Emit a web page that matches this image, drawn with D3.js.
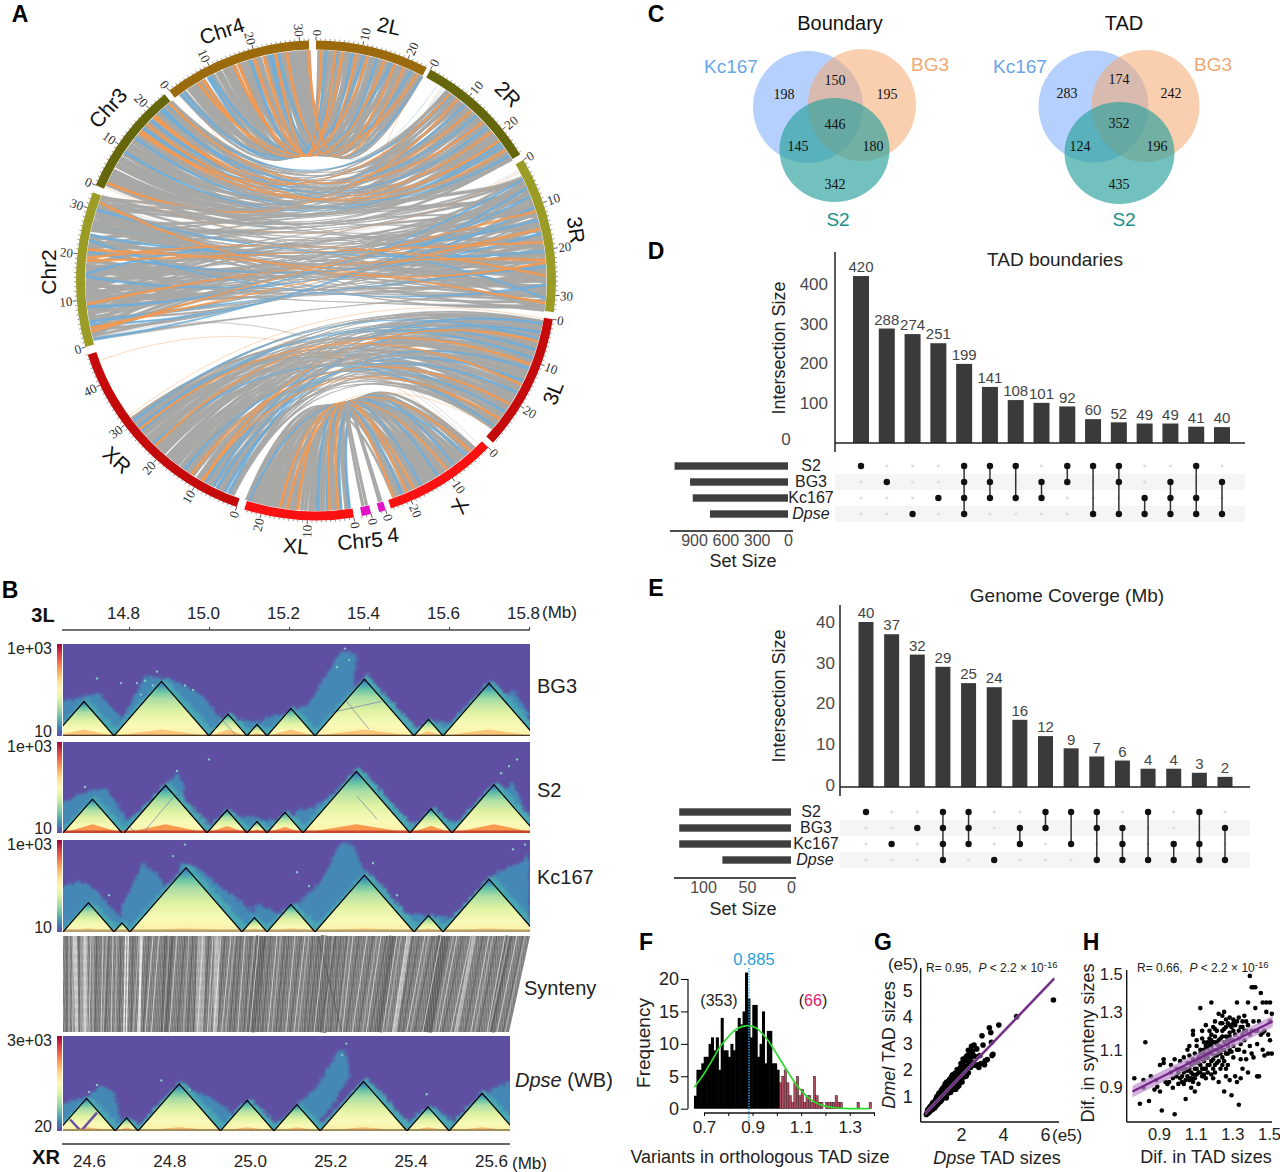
<!DOCTYPE html>
<html><head><meta charset="utf-8">
<script src="https://cdn.jsdelivr.net/npm/d3@7/dist/d3.min.js"></script>
<style>html,body{margin:0;padding:0;background:#fff}svg{display:block}text{font-family:"Liberation Sans",Arial,sans-serif}</style>
</head><body><svg id="c" width="1280" height="1172" viewBox="0 0 1280 1172"></svg>
<script>
/* ---------- A: synteny circle ---------- */
const sectorNames=["2L","2R","3R","3L","X","4","Chr5","XL","XR","Chr2","Chr3","Chr4"];
const sectorLengths=[24.4,26.5,33.6,29.8,24.6,1.5,2,23.7,47,33.5,24.5,32];
const sectorSpans=[[0,27.5],[28.5,58.3],[59.8,97.6],[99.3,132.5],[134.1,161.8],[163.1,164.75],[166.7,169],[170.9,197.4],[199.3,252],[253.9,291.6],[293.4,320.9],[322.3,358.3]];
const sectorColors=["#9a6a0c","#66660c","#9a9c26","#c40a0a","#fa1212","#e312c6","#e312c6","#fa1212","#c40a0a","#9a9c26","#66660c","#9a6a0c"];
const sectorTexts=[["2L",389,26,12],["Chr4",222,31,-18],["2R",508,94,45],["Chr3",108,108,-48],["3R",576,230,82],["Chr2",49,272,-90],["3L",553,393,-68],["XR",117,460,42],["X",460,506,-60],["XL",296,546,5],["Chr5",360,541,-5],["4",393,535,-5]];

const a2L=[.4,.9,1.5,2,2.4,3,3.6,4.1,4.5,5,5.7,6.2,6.7,7.1,7.8,8.3,8.8,9.2,9.9,10.4,10.9,11.3,12,12.5,13,13.4,14.1,14.6,15.1,15.5,16.2,16.7,17.2,17.6,18.3,18.8,19.3,19.7,20.4,20.9,21.4,21.8,22.5,23,23.6,24];
const bChr4=[29.5,24.2,30.6,18.5,27.1,12.3,31.2,21.6,8.4,26,15.7,3.3,28.4,10.6,22.9,5.2,19.4,30,13.8,2.1,25.3,7.1,16.9,27.8,11.2,23.6,4.4,20.5,14.6,29,9.5,1.2,17.8,26.7,6.3,22.1,12.9,31.5,3.9,19.9,9,16,28.9,5.8,14,24.8];
const t2L="gogbgggobgogggbgoggbgogggbggoggbgogggoggbggogb";
const a2R=[5.2,5.7,6.2,6.6,7.2,7.8,8.2,8.7,9.3,9.8,10.2,10.7,11.3,11.8,12.2,12.7,13.3,13.8,14.2,14.7,15.3,15.8,16.2,16.7,17.3,17.8,18.2,18.7,19.3,19.8,20.2,20.7,21.3,21.8,22.2,22.7,23.3,23.8,24.2,24.7,25.3,25.8,26.1];
const bChr3=[20.2,3.1,14.4,23.3,8.5,17.6,1.2,11.9,22.1,5.4,15.8,9.6,24,2.3,19.1,12.7,6.8,21.3,16.5,4.2,10.4,23.7,13.6,1.8,18.3,7.5,22.7,15,3.7,20.8,11,5.9,17,9.1,24.2,13,2.8,19.6,7,14.9,21.9,.8,16.1];
const t2R="ggobggogggbgggoggbgggoggbggoggggobgbgoggbgggog";
const a3R=[3,3.5,4,4.5,5.1,5.6,6.1,6.6,7.1,7.6,8.1,8.6,9.1,9.6,10.1,10.6,11.1,11.6,12.1,12.6,13.1,13.6,14.1,14.6,15.1,15.6,16.1,16.6,17.1,17.6,18.1,18.6,19.1,19.6,20.1,20.6,21.1,21.6,22.1,22.6,23.1,23.6,24.1,24.6,25.1,25.6,26.1,26.6,27.1,27.6,28.1,28.6,29.1,29.6,30.1,30.6,31.1,31.6,32.1,32.6,33.1];
const bChr2=[27.3,8.2,31.1,16.4,22.6,4.3,12.8,29.4,19.7,.9,25.2,10.1,32.6,6.6,14.9,21.3,2.7,28.2,17.5,11.4,24.1,7.4,30.3,15.2,3.5,26.5,20.5,9.2,32,13.6,18.4,1.6,23.4,5.5,29.9,12,27,16.9,8.8,31.7,21.9,4.9,14.2,25.8,10.7,19,2.2,28.8,6,23,17.2,11,30.7,3,26,15.6,9.7,20.9,13.1,32.9,7.9];
const t3R="gbgggbgggbggggbgogggbgggogbgggogggbgggoogbgggogggbgggggbgogg";
const waistShift=[-18,6,-34,12,-8,16,-26,2,-14,10,-38,8,-4,-22,14,-30,-10,4,-42,18,-6,-16,12,-28,0,-36,6,-12,16,-20];
const a3L=[.6,1.1,1.6,2.1,2.6,3.1,3.6,4.1,4.6,5.1,5.6,6.1,6.6,7.1,7.6,8.1,8.6,9.1,9.6,10.1,10.6,11.1,11.6,12.1,12.6,13.1,13.6,14.1,14.6,15.1,15.6,16.1,16.6,17.1,17.6,18.1,18.6,19.1,19.6,20.1,20.6,21.1,21.6,22.1,22.6,23.1,23.6,24.1,24.6,25.1,25.6,26.1,26.6,27.1];
const bXR=[24.4,6.1,17.3,28.6,11.2,2.4,20.9,14.5,29.3,8.7,23.1,4.2,16.2,26.5,10,19.4,1.4,27.6,13.1,7.3,22,15.4,3.3,25.3,18.3,9.4,29.8,12.2,5.2,21.4,27,16.8,1.9,24,8.1,19.9,14,28.2,6.7,23.6,11.7,3.8,17.8,26,13.6,20.4,4.7,28.9,9,15.9,25.7,7.8,22.6,12.7];
const t3L="gbgggbggbogggbgggbggogbgggggbgogggbgggggogggbgggogggb";
const aX=[2,2.6,3.1,3.7,4.4,5,5.5,6.2,6.8,7.3,7.9,8.6,9.1,9.7,10.4,11,11.5,12.2,12.8,13.3,13.9,14.6,15.1,15.7,16.4,17,17.5,18.2,18.8,19.3,19.9,20.6,21.1,21.7,22.4,23];
const bXL=[21.6,3.6,14.3,9.1,22.9,1,17.2,6.2,19.8,12.5,.4,23.4,8,15.9,4.4,20.6,11,2.3,18.5,13.6,6.9,22.2,10.1,16.7,5.3,19.2,.7,12,8.8,21.1,2.9,15.2,7.5,18,13,4.9];
const tX="ggogbgggggbggogggbggggggbggoggogbggog";
const a4=[.2,.7];
const bChr5=[.3,1.1];
const t4="gg";
const faintLinks=[["Chr4",1,"2L",24.2,"o"],["Chr3",1,"2R",5,"g"],["Chr2",26.5,"2R",4.5,"b"],["Chr3",.4,"3R",2,"o"],["Chr2",32,"3R",1.5,"g"],["XR",45,"X",3,"o"],["XR",31,"3L",.2,"o"],["3L",27,"XR",30,"b"],["3L",27.4,"XL",23,"o"],["XR",30.5,"3L",26.5,"o"],["Chr2",2,"X",2,"g"],["Chr2",1.4,"X",1,"g"],["Chr4",3,"Chr3",24,"o"],["2R",4,"2L",23.6,"o"],["2R",3,"Chr4",28,"b"]];
const toneColors={g:"#a8a8a6",o:"#f4994f",b:"#6eaedb"};

/* ---------- B: contact maps ---------- */
const xTopTicks=[14.8,15.0,15.2,15.4,15.6,15.8];
const xBottomTicks=[24.6,24.8,25.0,25.2,25.4,25.6];
const bg3Tads=[[14.6125,14.7625],[14.7625,15.0],[15.0,15.095],[15.095,15.145],[15.145,15.265],[15.265,15.5125],[15.5125,15.585],[15.585,15.815]];
const s2Tads=[[14.635,14.7825],[14.7875,14.995],[14.995,15.095],[15.095,15.145],[15.145,15.235],[15.235,15.5025],[15.5025,15.6075],[15.6075,15.8175]];
const kcTads=[[14.635,14.7625],[14.7625,14.8025],[14.8025,15.0825],[15.0825,15.145],[15.145,15.265],[15.265,15.5125],[15.5125,15.585],[15.585,15.815]];
const dpseTads=[[24.523,24.665],[24.665,24.722],[24.722,24.927],[24.927,25.06],[25.06,25.175],[25.175,25.391],[25.391,25.496],[25.496,25.66]];
const bg3Haze=[[[14.63,0],[14.63,.15],[14.68,.17],[14.72,.19],[14.78,.08],[14.8,0]],[[14.76,0],[14.8,.13],[14.84,.26],[14.9,.25],[14.98,.18],[15.04,.05],[15.05,0]],[[15.1,0],[15.14,.08],[15.2,.1],[15.25,.14],[15.33,.37],[15.37,.36],[15.36,.2],[15.26,0]],[[15.03,0],[15.05,.08],[15.12,.06],[15.2,0]],[[15.5,0],[15.55,.07],[15.62,.05],[15.66,0]],[[15.68,0],[15.76,.2],[15.8,.1],[15.8,0]]];
const s2Haze=[[[14.63,0],[14.63,.13],[14.7,.18],[14.74,.2],[14.8,.05],[14.81,0]],[[14.76,0],[14.8,.06],[14.86,.15],[14.92,.26],[14.94,.2],[14.9,0]],[[14.98,0],[15.02,.05],[15.08,.07],[15.15,.06],[15.2,.04],[15.25,0]],[[15.19,0],[15.22,.1],[15.26,.11],[15.31,.17],[15.37,.27],[15.42,.2],[15.3,0]],[[15.48,0],[15.54,.06],[15.62,.05],[15.66,.03],[15.68,0]],[[15.66,0],[15.72,.16],[15.76,.22],[15.8,.05],[15.8,0]]];
const kcHaze=[[[14.63,0],[14.63,.2],[14.68,.22],[14.72,.18],[14.78,.06],[14.82,0]],[[14.78,0],[14.78,.1],[14.835,.3],[14.87,.25],[14.92,.12],[14.86,0]],[[14.9,.1],[14.93,.3],[14.97,.28],[15.1,.1],[15.14,.03],[15.05,.02]],[[15.08,0],[15.12,.12],[15.15,.1],[15.2,.06],[15.26,0]],[[15.2,0],[15.22,.12],[15.28,.22],[15.33,.39],[15.36,.38],[15.39,.25],[15.35,.18],[15.27,0]],[[15.47,0],[15.5,.08],[15.56,.07],[15.66,.05],[15.7,0]],[[15.68,.1],[15.7,.2],[15.72,.26],[15.78,.3],[15.8,.34],[15.8,.05],[15.78,.05]]];
const dpseHaze=[[[24.535,0],[24.535,.12],[24.6,.15],[24.63,.2],[24.66,.17],[24.68,.05],[24.7,0]],[[24.76,0],[24.82,.2],[24.9,.15],[24.98,.05],[25.0,0]],[[24.92,0],[24.98,.12],[25.03,.08],[25.08,0]],[[25.05,0],[25.1,.08],[25.17,.2],[25.22,.35],[25.24,.35],[25.25,.24],[25.2,.1],[25.15,0]],[[25.37,0],[25.42,.08],[25.46,.1],[25.52,.03],[25.54,0]],[[25.55,0],[25.6,.18],[25.65,.22],[25.65,0]]];
const bg3Specks=[[14.82,.23],[14.84,.24],[14.86,.22],[14.87,.28],[14.83,.18],[14.94,.22],[14.96,.2],[14.72,.25],[14.78,.23],[15.34,.38],[15.35,.33],[15.32,.3]];
const s2Specks=[[15.0,.32],[14.92,.27],[15.73,.26],[15.77,.32],[15.75,.29],[14.69,.2]];
const kcSpecks=[[14.94,.38],[14.91,.33],[14.75,.16],[15.25,.2],[15.47,.16],[15.41,.3],[15.79,.38],[15.76,.36],[15.22,.26]];
const dpseSpecks=[[25.24,.38],[25.23,.33],[24.85,.18],[24.78,.22],[25.44,.16],[24.62,.2],[24.6,.17]];
const bg3Stripes=[[15.035,.065,15.07,0],[15.33,.18,15.4,.03],[15.3,.1,15.43,.15]];
const s2Stripes=[[14.835,0,14.91,.155],[14.79,.04,14.82,0],[15.37,.16,15.42,.06]];
const kcStripes=[[15.25,.12,15.33,.24]];
const dpseStripes=[[24.553,.05,24.58,0],[24.58,0,24.62,.08]];
const synWhite=[[14.66,24.56],[14.69,24.59],[14.705,24.6],[14.735,24.63],[14.76,24.655],[14.835,24.72],[14.86,24.74],[14.875,24.755],[14.92,24.8],[14.985,24.87],[15.01,24.895],[15.03,24.91],[15.055,24.93],[15.09,24.97],[15.125,25.0],[15.17,25.045],[15.215,25.09],[15.24,25.11],[15.29,25.16],[15.36,25.23],[15.395,25.255],[15.43,25.29],[15.47,25.33],[15.495,25.355],[15.54,25.39],[15.58,25.43],[15.62,25.47],[15.655,25.5],[15.7,25.55],[15.74,25.59],[15.77,25.615]];
const synDark=[[14.645,24.545],[14.675,24.575],[14.72,24.615],[14.75,24.64],[14.78,24.675],[14.795,24.69],[14.81,24.705],[14.85,24.735],[14.89,24.78],[14.91,24.79],[14.94,24.82],[14.96,24.845],[14.97,24.86],[15.0,24.885],[15.04,24.92],[15.07,24.95],[15.08,24.96],[15.105,24.985],[15.14,25.02],[15.155,25.03],[15.19,25.065],[15.2,25.075],[15.23,25.1],[15.26,25.135],[15.275,25.145],[15.2725,25.229],[15.33,25.2],[15.345,25.215],[15.375,25.24],[15.41,25.27],[15.445,25.3],[15.46,25.32],[15.51,25.37],[15.525,25.38],[15.56,25.41],[15.6,25.45],[15.635,25.48],[15.67,25.52],[15.685,25.535],[15.72,25.57],[15.755,25.6],[15.785,25.63],[15.3175,25.175]];
const synMid=[[14.65,24.55],[14.68,24.58],[14.71,24.61],[14.745,24.635],[14.77,24.665],[14.825,24.71],[14.9,24.785],[14.95,24.835],[15.02,24.9],[15.065,24.94],[15.115,24.99],[15.18,25.055],[15.25,25.12],[15.31,25.185],[15.35,25.22],[15.42,25.28],[15.48,25.34],[15.55,25.4],[15.61,25.46],[15.66,25.51],[15.71,25.56],[15.75,25.595],[15.79,25.635]];
const synBandsLight=[[14.795,24.69,4,"#fff"],[14.83,24.725,2.5,"#f4f4f4"],[14.665,24.57,4,"#d8d8d8"],[14.69,24.59,5,"#c4c4c4"],[14.98,24.875,9,"#b2b2b2"],[15.02,24.915,5,"#c2c2c2"],[15.5,25.36,4,"#c8c8c8"],[15.665,25.515,5,"#bdbdbd"]];
const synBandsDark=[[15.585,25.44,10,"#5c5c5c"],[14.9,24.79,8,"#666"],[15.13,25.0,10,"#5f5f5f"],[15.3,25.17,16,"#6a6a6a"],[15.46,25.32,8,"#666"],[15.75,25.6,7,"#666"]];

/* ---------- C: Venn ---------- */
const setNames=["Kc167","BG3","S2"];
const boundaryCounts=[198,150,195,446,145,180,342];
const tadCounts=[283,174,242,352,124,196,435];

/* ---------- D, E: UpSet ---------- */
const dBars=[420,288,274,251,199,141,108,101,92,60,52,49,49,41,40];
const eBars=[40,37,32,29,25,24,16,12,9,7,6,4,4,3,2];
const upRows=["S2","BG3","Kc167","Dpse"];
const dMembers=[[0],[1],[3],[2],[0,1,2,3],[0,1,2],[0,2],[1,2],[0,1],[0,3],[0,1,3],[2,3],[1,2,3],[0,2,3],[1,3]];
const eMembers=[[0],[2],[1],[0,1,2,3],[0,1,2],[3],[1,2],[0,1],[0,2],[0,1,3],[1,2,3],[0,3],[2,3],[0,2,3],[1,3]];
const dSetSizes=[1086,938,912,747];
const eSetSizes=[127,127,127,78];

/* ---------- F ---------- */
const histStart=.66;
const histBlack=[2,6,6,7,8,8,10,11,9,11,6,14,9,9,8,10,9,12,14,13,15,21,17,11,16,16,8,10,15,7,12,12,7,7,6];
const histRedStart=1.01;
const histRed=[4,5,6,4,2,1,4,5,2,3,1,2,2,1,5,2,1,1,0,1,1,1,1,2,1,1,0,0,0,0,0,0,1,0,0,0,0,1];
const fitX=[.66,.68,.7,.72,.74,.76,.78,.8,.82,.84,.86,.88,.9,.92,.94,.96,.98,1,1.02,1.04,1.06,1.08,1.1,1.12,1.14,1.16,1.18,1.2,1.24,1.28,1.32,1.38];
const fitY=[3.3,4.3,5.4,6.6,7.9,9.2,10.2,11.1,11.9,12.4,12.7,12.8,12.7,12.3,11.6,10.7,9.6,8.4,7.2,6,4.8,3.7,2.8,2,1.4,.95,.6,.4,.15,.05,.01,0];

/* ---------- G ---------- */
const gLine=[[.3,.36],[6.44,5.46]];
const gPoints=[[.38,.36],[.4,.45],[.42,.5],[.44,.38],[.45,.42],[.47,.52],[.48,.55],[.5,.46],[.5,.42],[.52,.6],[.54,.47],[.55,.5],[.57,.57],[.58,.62],[.6,.52],[.6,.6],[.62,.7],[.63,.5],[.65,.58],[.66,.65],[.68,.66],[.69,.56],[.7,.78],[.72,.62],[.73,.7],[.75,.72],[.76,.62],[.78,.85],[.8,.7],[.8,.78],[.82,.92],[.83,.66],[.85,.78],[.87,.86],[.88,.82],[.9,1.02],[.9,.72],[.92,.8],[.94,.88],[.95,.92],[.96,.78],[.98,1.1],[1,.88],[1,.96],[1.02,1],[1.03,.82],[1.05,1.2],[1.06,.92],[1.08,.98],[1.1,1.08],[1.1,.9],[1.12,1.3],[1.14,.98],[1.15,1.02],[1.16,1.14],[1.18,1.2],[1.2,1.38],[1.2,1],[1.22,1.1],[1.24,1.05],[1.25,1.28],[1.28,1.42],[1.28,1.1],[1.3,1.16],[1.32,1.3],[1.33,1.08],[1.35,1.5],[1.36,1.2],[1.38,1.22],[1.4,1.36],[1.42,1.58],[1.43,1.15],[1.45,1.3],[1.47,1.25],[1.48,1.46],[1.5,1.62],[1.52,1.35],[1.53,1.22],[1.55,1.5],[1.58,1.68],[1.6,1.4],[1.61,1.3],[1.62,1.58],[1.65,1.75],[1.66,1.38],[1.68,1.48],[1.7,1.62],[1.72,1.4],[1.75,1.55],[1.77,1.82],[1.8,1.7],[1.82,1.5],[1.85,1.62],[1.88,1.95],[1.9,1.72],[1.92,1.55],[1.95,1.85],[1.98,2.1],[2,1.78],[2.02,1.65],[2.05,2],[2.08,2.2],[2.1,1.85],[2.12,2.32],[2.15,1.95],[2.18,2.1],[2.2,2.4],[2.22,1.88],[2.25,2.5],[2.28,2.15],[2.3,2.05],[2.32,2.35],[2.35,2.75],[2.38,2.45],[2.4,2.2],[2.42,2.62],[2.45,2.1],[2.48,2.5],[2.5,2.9],[2.52,2.3],[2.55,2.72],[2.58,2.28],[2.6,2.55],[2.62,2.95],[2.66,2.18],[2.7,2.5],[2.75,2.8],[2.8,2.2],[2.85,2.1],[2.9,2.55],[2.95,2.25],[3,3.3],[3.05,2.95],[3.12,2.2],[3.15,2.35],[3.25,2.4],[3.35,3.6],[3.42,3.42],[3.48,2.55],[3.52,2.6],[3.45,3.05],[3.8,3.7],[4.65,4.02],[6.4,4.65],[1.3,.95],[1.5,1.15],[1.7,1.28],[.75,.58],[1.05,.85],[1.25,1.48],[1.55,1.75],[1.85,1.38],[2.05,1.55],[2.15,1.75],[.95,1.12],[1.03,1.15],[1.08,1.25],[1.18,1.32],[1.32,1.55],[1.4,1.5],[1.46,1.65],[1.6,1.82],[1.72,1.88],[1.82,2.02],[1.92,2.02],[2.0,2.25],[2.1,2.42],[2.3,2.55],[1.75,1.28],[1.9,1.42],[2.25,1.78],[2.35,1.9],[.35,.32],[.55,.62],[.65,.75],[.85,1.0]];

/* ---------- H ---------- */
const hLine=[[.75,.88],[1.515,1.25]];
const hPoints=[[.76,.95],[.79,.815],[.81,.94],[.81,.9],[.82,1.14],[.84,.83],[.85,.96],[.87,.89],[.88,.94],[.885,.905],[.9,1.02],[.9,.88],[.91,.78],[.92,1.05],[.92,1.03],[.94,.92],[.95,.93],[.96,1.02],[.97,.9],[.98,.76],[.98,1.05],[.99,.96],[1,.98],[1,.92],[1.01,.95],[1.01,1.04],[1.02,1.0],[1.02,.96],[1.03,.92],[1.03,1.06],[1.04,1.0],[1.04,.84],[1.05,.96],[1.05,1.1],[1.06,1.03],[1.06,1.07],[1.07,.98],[1.07,.95],[1.08,1.2],[1.08,1.18],[1.09,1.0],[1.09,1.08],[1.09,.88],[1.1,1.04],[1.1,1.12],[1.11,.98],[1.11,1.06],[1.12,1.02],[1.12,1.1],[1.12,1.32],[1.13,1.16],[1.13,1.0],[1.13,.96],[1.14,1.04],[1.14,1.08],[1.15,1.12],[1.15,1.0],[1.15,1.23],[1.16,1.06],[1.16,.98],[1.16,1.14],[1.17,1.02],[1.17,1.09],[1.18,1.18],[1.18,1.35],[1.18,1.04],[1.19,1.0],[1.19,1.1],[1.19,1.22],[1.2,1.07],[1.2,.98],[1.2,1.14],[1.21,1.03],[1.21,1.2],[1.22,1.09],[1.22,1.12],[1.22,1.29],[1.23,1.0],[1.23,1.16],[1.23,1.24],[1.24,1.06],[1.24,1.1],[1.25,1.14],[1.25,1.04],[1.25,1.21],[1.25,1.3],[1.26,1.08],[1.26,1.17],[1.26,.96],[1.27,1.12],[1.27,1.02],[1.27,1.24],[1.28,1.1],[1.28,1.19],[1.28,.94],[1.29,1.15],[1.29,1.22],[1.29,.86],[1.3,1.06],[1.3,1.26],[1.3,1.12],[1.31,.96],[1.31,1.18],[1.31,1.23],[1.32,1.1],[1.32,.93],[1.32,1.35],[1.33,.81],[1.33,1.2],[1.33,1.27],[1.34,1.13],[1.34,1.05],[1.34,.95],[1.35,1.22],[1.35,1.25],[1.35,1.0],[1.36,1.15],[1.36,1.09],[1.36,1.28],[1.37,1.2],[1.37,1.05],[1.38,1.23],[1.38,.98],[1.38,1.35],[1.39,1.12],[1.39,1.18],[1.39,1.49],[1.4,1.43],[1.4,1.08],[1.41,1.43],[1.41,1.25],[1.41,1.06],[1.42,1.43],[1.42,1.2],[1.42,1.32],[1.43,.96],[1.43,1.13],[1.44,1.25],[1.44,.96],[1.45,1.18],[1.45,1.4],[1.46,1.35],[1.46,1.1],[1.47,1.2],[1.47,1.07],[1.48,1.3],[1.48,1.35],[1.49,1.18],[1.49,1.08],[1.5,1.35],[1.5,1.25],[1.5,1.15],[1.51,1.08],[1.51,1.29],[1.14,1.0],[1.11,.92],[1.07,.9],[1.04,.94],[1.02,.93],[.99,1.0],[.97,.95],[1.06,1.12],[1.08,1.05],[1.1,1.15],[1.13,1.2],[1.17,1.2],[1.2,1.25],[1.24,1.24],[1.28,1.27],[1.3,1.2],[1.24,1.17],[1.21,1.1],[1.18,1.12],[1.16,1.08],[1.14,1.14],[1.12,1.05],[1.1,1.0],[1.08,.97],[1.06,1.0],[1.26,1.0],[1.22,.93],[1.18,.97],[1.15,.95],[1.35,1.18],[1.33,1.1],[1.37,1.25],[1.4,1.2],[1.43,1.2],[1.46,1.19],[1.29,1.09],[1.27,1.15],[1.23,1.08],[1.19,1.05],[1.05,1.03],[1.01,1.0],[.96,.98],[.93,.93],[1.25,.88],[1.19,.95],[1.09,.95],[1.12,1.08],[1.14,1.1],[1.16,1.11],[1.18,1.15],[1.2,1.17],[1.22,1.15],[1.24,1.2],[1.26,1.22],[1.28,1.23],[1.3,1.24],[1.32,1.25],[1.34,1.22],[1.36,1.2],[1.15,1.06],[1.17,1.13],[1.19,1.14],[1.21,1.13],[1.23,1.12],[1.25,1.1],[1.27,1.08],[1.09,1.03],[1.07,1.02],[1.05,.99],[1.03,.98],[1.13,1.05],[1.11,1.03],[1.21,1.07],[1.18,1.08],[1.16,1.02],[1.14,.97],[1.12,.98],[1.1,.97],[1.08,.93],[1.06,.94],[1.22,1.04],[1.24,1.02],[1.2,1.02],[1.28,1.17],[1.3,1.15],[1.33,1.16],[1.26,1.26],[1.24,1.28],[1.2,1.21],[1.17,1.16]];

/* ---------- drawing ---------- */
const svg=d3.select("#c");
const defs=svg.append("defs");
function T(g,x,y,s,o={}){
  const t=g.append("text").attr("x",x).attr("y",y).attr("dy",".35em").text(s)
   .attr("font-size",o.size||18).attr("text-anchor",o.anchor||"middle").attr("fill",o.fill||"#111");
  if(o.weight)t.attr("font-weight",o.weight);
  if(o.style)t.attr("font-style",o.style);
  if(o.family)t.style("font-family",o.family);
  if(o.rot!==undefined)t.attr("transform",`rotate(${o.rot} ${x} ${y})`);
  return t;
}
[["A",20,14],["B",10,590],["C",656,14],["D",656,251],["E",656,588],["F",646,942],["G",883,942],["H",1091,942]].forEach(d=>T(svg,d[1],d[2],d[0],{size:23,weight:"bold",fill:"#000"}));

/* A */
(function(){
 const cx=316,cy=280.5,R=240,rIn=231,rLink=230;
 const g=svg.append("g").attr("transform",`translate(${cx},${cy})`);
 const rad=d=>d*Math.PI/180;
 const S={};
 sectorNames.forEach((n,i)=>S[n]=d3.scaleLinear().domain([0,sectorLengths[i]]).range(sectorSpans[i]));
 const P=(deg,r)=>d3.pointRadial(rad(deg),r);
 function ctrl(p,q,d1,d2,shift=0){
   let delta=Math.abs(d1-d2),bis=(d1+d2)/2;
   if(delta>180){delta=360-delta;bis+=180;}
   const h=.52*R*Math.pow(Math.min(1,(180-delta)/115),1.2);
   const ap=P(bis,h);ap[1]+=shift;
   return [2*ap[0]-(p[0]+q[0])/2,2*ap[1]-(p[1]+q[1])/2];
 }
 function ribbon(a0,a1,b0,b1,shift){
   const p=d3.path();
   const A0=P(a0,rLink),A1=P(a1,rLink),B0=P(b0,rLink),B1=P(b1,rLink);
   const c1=ctrl(A1,B0,a1,b0,shift),c2=ctrl(B1,A0,b1,a0,shift);
   p.moveTo(...A0);p.lineTo(...A1);p.quadraticCurveTo(c1[0],c1[1],B0[0],B0[1]);p.lineTo(...B1);p.quadraticCurveTo(c2[0],c2[1],A0[0],A0[1]);p.closePath();
   return p.toString();
 }
 const lg=g.append("g");
 function pair(na,aa,nb,bb,tones,wa,wb,shifts){
   const n=bb.length;
   const sh=i=>shifts?shifts[i%shifts.length]:0;
   const under=aa.map((v,i)=>({a:v,b:bb[n-1-(i%n)],s:sh(i+7)}));
   lg.selectAll(null).data(under).join("path")
     .attr("d",d=>ribbon(S[na](d.a),S[na](d.a+wa*.85),S[nb](d.b+wb*.85),S[nb](d.b),d.s))
     .attr("fill","#a9a9a7").attr("stroke","#a9a9a7").attr("stroke-width",.5);
   const items=aa.map((v,i)=>({a:v,b:bb[i%n],t:tones[i%tones.length],s:sh(i)}));
   ["g","b","o"].forEach(tt=>{
     const k=tt==="g"?.8:.62;
     lg.selectAll(null).data(items.filter(d=>d.t===tt)).join("path")
      .attr("d",d=>ribbon(S[na](d.a),S[na](d.a+wa*k),S[nb](d.b+wb*k),S[nb](d.b),d.s))
      .attr("fill",toneColors[tt]).attr("stroke",toneColors[tt]).attr("stroke-width",.5).attr("fill-opacity",.95);
   });
 }
 pair("2L",a2L,"Chr4",bChr4,t2L,.72,.95);
 pair("2R",a2R,"Chr3",bChr3,t2R,.72,.85);
 pair("3R",a3R,"Chr2",bChr2,t3R,.72,.8,waistShift);
 pair("3L",a3L,"XR",bXR,t3L,.75,.8);
 pair("X",aX,"XL",bXL,tX,.72,.85);
 pair("4",a4,"Chr5",bChr5,t4,.45,.6);
 faintLinks.forEach(f=>{
   const a=S[f[0]](f[1]),b=S[f[2]](f[3]);const A=P(a,rLink),B=P(b,rLink);const c=ctrl(A,B,a,b);
   const p=d3.path();p.moveTo(...A);p.quadraticCurveTo(c[0],c[1],B[0],B[1]);
   lg.append("path").attr("d",p.toString()).attr("fill","none").attr("stroke",toneColors[f[4]]).attr("stroke-opacity",.45).attr("stroke-width",.8);
 });
 const arc=d3.arc().innerRadius(rIn).outerRadius(R);
 sectorNames.forEach((n,i)=>{
   const sp=sectorSpans[i];
   g.append("path").attr("d",arc({startAngle:rad(sp[0]),endAngle:rad(sp[1])})).attr("fill",sectorColors[i]);
   const len=sectorLengths[i];
   g.selectAll(null).data(d3.range(0,Math.floor(len)+1)).join("line").each(function(m){
     const d=S[n](m),major=m%10===0,a=P(d,R),b=P(d,R+(major?4:2));
     d3.select(this).attr("x1",a[0]).attr("y1",a[1]).attr("x2",b[0]).attr("y2",b[1]).attr("stroke","#333").attr("stroke-width",major?.8:.5);
   });
   d3.range(0,len,10).forEach(m=>{
     const d=S[n](m),p=P(d,R+4.5),right=d<180;
     g.append("text").attr("transform",`translate(${p[0]},${p[1]}) rotate(${right?d-90:d+90})`).attr("dy",".35em")
      .attr("text-anchor",right?"start":"end").attr("font-size",13).attr("fill","#333").style("font-family","Liberation Serif").text(m);
   });
 });
 sectorTexts.forEach(s=>T(svg,s[1],s[2],s[0],{size:21,rot:s[3],fill:"#111"}));
})();

/* B */
(function(){
 const g=svg.append("g");
 const xTop=d3.scaleLinear().domain([14.8,15.8]).range([129,529]);
 const xBot=d3.scaleLinear().domain([24.6,25.6]).range([89,491]);
 const fb=defs.append("filter").attr("id","bl1").attr("x","-5%").attr("y","-5%").attr("width","110%").attr("height","110%");
 fb.append("feGaussianBlur").attr("stdDeviation",.7);
 const fh=defs.append("filter").attr("id","hz").attr("x","-10%").attr("y","-10%").attr("width","120%").attr("height","120%");
 fh.append("feTurbulence").attr("type","fractalNoise").attr("baseFrequency",.32).attr("numOctaves",2).attr("seed",7).attr("result","n");
 fh.append("feDisplacementMap").attr("in","SourceGraphic").attr("in2","n").attr("scale",9).attr("xChannelSelector","R").attr("yChannelSelector","G").attr("result","d");
 fh.append("feGaussianBlur").attr("in","d").attr("stdDeviation",.8);
 const tg=defs.append("linearGradient").attr("id","tadGrad").attr("x1",0).attr("y1",1).attr("x2",0).attr("y2",0);
 [[0,"#fbf0a6"],[.2,"#f9fab8"],[.45,"#dff2a2"],[.68,"#abdda4"],[.82,"#66c2a5"],[.93,"#3f8fb8"],[1,"#5e4fa2"]].forEach(s=>tg.append("stop").attr("offset",s[0]).attr("stop-color",s[1]));
 const cb=defs.append("linearGradient").attr("id","cbar").attr("x1",0).attr("y1",1).attr("x2",0).attr("y2",0);
 d3.range(0,1.01,.1).forEach(t=>cb.append("stop").attr("offset",t).attr("stop-color",d3.interpolateSpectral(1-t)));
 const sp=defs.append("pattern").attr("id","fine").attr("patternUnits","userSpaceOnUse").attr("width",2.6).attr("height",9).attr("patternTransform","skewX(4)");
 sp.append("rect").attr("width",1).attr("height",9).attr("fill","#d4d4d4");
 sp.append("rect").attr("x",1.4).attr("width",.8).attr("height",5).attr("fill","#4c4c4c");
 const panels=[
  {id:"p1",x:xTop,x0:63,x1:530,top:644,bot:736,tads:bg3Tads,haze:bg3Haze,specks:bg3Specks,stripes:bg3Stripes,band:"#4a3a24",bandH:1.3,foot:"#fec67a",footH:.028,hi:"1e+03",lo:"10"},
  {id:"p2",x:xTop,x0:63,x1:530,top:742,bot:833,tads:s2Tads,haze:s2Haze,specks:s2Specks,stripes:s2Stripes,band:"#c8452f",bandH:2.5,foot:"#fb9a50",footH:.038,hi:"1e+03",lo:"10"},
  {id:"p3",x:xTop,x0:63,x1:530,top:840,bot:932,tads:kcTads,haze:kcHaze,specks:kcSpecks,stripes:kcStripes,band:"#b7a070",bandH:2.5,foot:"#fedb8a",footH:.018,hi:"1e+03",lo:"10"},
  {id:"p4",x:xBot,x0:63,x1:510,top:1036,bot:1131,tads:dpseTads,haze:dpseHaze,specks:dpseSpecks,stripes:dpseStripes,band:"#a38e5e",bandH:2,foot:"#fdb96b",footH:.016,hi:"3e+03",lo:"20"}
 ];
 panels.forEach(p=>{
  const y=d3.scaleLinear().domain([0,.4]).range([p.bot,p.bot-92]);
  defs.append("clipPath").attr("id",p.id).append("rect").attr("x",p.x0).attr("y",p.top).attr("width",p.x1-p.x0).attr("height",p.bot-p.top);
  const w=g.append("g").attr("clip-path",`url(#${p.id})`);
  w.append("rect").attr("x",p.x0).attr("y",p.top).attr("width",p.x1-p.x0).attr("height",p.bot-p.top).attr("fill","#5e4fa2");
  const line=d3.line().x(d=>p.x(d[0])).y(d=>y(d[1]));
  const hz=w.append("g").attr("filter","url(#hz)");
  hz.selectAll(null).data(p.haze).join("path").attr("d",d=>line(d)+"Z").attr("fill","#3f94b8").attr("fill-opacity",.85);
  hz.selectAll(null).data(p.tads).join("path").attr("d",d=>line([[d[0]-.012,0],[(d[0]+d[1])/2+.006,(d[1]-d[0])*1.08],[d[1]+.025,0]])+"Z").attr("fill","#4aa6b2");
  w.append("g").selectAll(null).data(p.specks).join("circle").attr("cx",d=>p.x(d[0])).attr("cy",d=>y(d[1])).attr("r",1.2).attr("fill","#7fc9c0");
  const inner=w.append("g").attr("filter","url(#bl1)");
  inner.selectAll(null).data(p.tads).join("path").attr("d",d=>line([[d[0],0],[(d[0]+d[1])/2,(d[1]-d[0])],[d[1],0]])+"Z").attr("fill","url(#tadGrad)");
  inner.selectAll(null).data(p.tads).join("path").attr("d",d=>{const h=Math.min(p.footH,(d[1]-d[0])*.3);const m=(d[0]+d[1])/2;return line([[d[0],0],[m,h],[d[1],0]])+"Z";}).attr("fill",p.foot);
  w.append("g").selectAll(null).data(p.stripes).join("line").attr("x1",d=>p.x(d[0])).attr("y1",d=>y(d[1])).attr("x2",d=>p.x(d[2])).attr("y2",d=>y(d[3])).attr("stroke",p.id==="p4"?"#6b4fa5":"#5a70ae").attr("stroke-width",p.id==="p4"?2.5:1).attr("stroke-opacity",p.id==="p4"?1:.6);
  w.append("rect").attr("x",p.x0).attr("y",p.bot-p.bandH).attr("width",p.x1-p.x0).attr("height",p.bandH).attr("fill",p.band);
  w.selectAll(null).data(p.tads).join("path").attr("d",d=>line([[d[0],0],[(d[0]+d[1])/2,d[1]-d[0]],[d[1],0]])).attr("fill","none").attr("stroke","#000").attr("stroke-width",1.2);
  g.append("rect").attr("x",57).attr("y",p.top).attr("width",5).attr("height",p.bot-p.top).attr("fill","url(#cbar)");
  T(g,52,p.top+4,p.hi,{size:16,anchor:"end",fill:"#222"});
  T(g,52,p.bot-5,p.lo,{size:16,anchor:"end",fill:"#222"});
 });
 const ax1=g.append("g").attr("transform","translate(0,630)").call(d3.axisTop(xTop).tickValues(xTopTicks).tickSize(3).tickFormat(d3.format(".1f")));
 ax1.select(".domain").attr("d","M62,0H530").attr("stroke","#444").attr("stroke-width",1.5);
 ax1.selectAll("text").attr("font-size",17).attr("fill","#222").attr("dx",-6).attr("y",-11).style("font-family","Liberation Sans");
 ax1.selectAll(".tick line").attr("stroke","#444");
 T(g,542,612,"(Mb)",{size:17,anchor:"start",fill:"#222"});
 T(g,43,615,"3L",{size:20,weight:"bold",fill:"#111"});
 const ax2=g.append("g").attr("transform","translate(0,1144)").call(d3.axisBottom(xBot).tickValues(xBottomTicks).tickSize(0).tickFormat(d3.format(".1f")));
 ax2.select(".domain").attr("d","M62,0H510").attr("stroke","#333").attr("stroke-width",1.5);
 ax2.selectAll("text").attr("font-size",17).attr("fill","#222").attr("y",11).style("font-family","Liberation Sans");
 T(g,512,1163,"(Mb)",{size:17,anchor:"start",fill:"#222"});
 T(g,46,1157,"XR",{size:20,weight:"bold",fill:"#111"});
 [["BG3",537,686],["S2",537,790],["Kc167",537,877],["Synteny",524,988]].forEach(d=>T(g,d[1],d[2],d[0],{size:20,anchor:"start",fill:"#222"}));
 const dp=T(g,515,1080,"",{size:20,anchor:"start",fill:"#222"});
 dp.append("tspan").attr("font-style","italic").text("Dpse");dp.append("tspan").text(" (WB)");
 /* synteny */
 const sy0=936,sy1=1032;
 const sg=g.append("g");
 const pts=[[63,sy0],[530,sy0],[509,sy1],[63,sy1]].map(d=>d.join(",")).join(" ");
 sg.append("polygon").attr("points",pts).attr("fill","#7c7c7c");
 sg.append("g").selectAll(null).data(synBandsDark.concat(synBandsLight)).join("line").attr("x1",d=>xTop(d[0])).attr("y1",sy0).attr("x2",d=>xBot(d[1])).attr("y2",sy1).attr("stroke",d=>d[3]).attr("stroke-width",d=>d[2]).attr("stroke-opacity",.9);
 sg.append("polygon").attr("points",pts).attr("fill","url(#fine)").attr("fill-opacity",.3);
 const drawSyn=(arr,c,w,o)=>sg.append("g").selectAll(null).data(arr).join("line").attr("x1",d=>xTop(d[0])).attr("y1",sy0).attr("x2",d=>xBot(d[1])).attr("y2",sy1).attr("stroke",c).attr("stroke-width",w).attr("stroke-opacity",o);
 drawSyn(synMid,"#c9c9c9",1.4,.55);
 drawSyn(synDark,"#505050",1.1,.6);
 drawSyn(synWhite,"#fff",.8,.75);
})();

/* C */
(function(){
 const g=svg.append("g");
 const fills=["rgb(120,170,250)","rgb(245,168,110)","rgb(40,160,155)"];
 const alphas=[.55,.55,.65];
 const labelColors=["#6aa6ea","#efa873","#17908a"];
 function venn(title,tx,cs,vals,pos,lab){
  T(g,tx,23,title,{size:20,fill:"#111"});
  const v=g.append("g");
  v.selectAll(null).data(cs).join("ellipse").attr("cx",d=>d[0]).attr("cy",d=>d[1]).attr("rx",d=>d[2]).attr("ry",d=>d[3]).attr("fill",(d,i)=>fills[i]).attr("fill-opacity",(d,i)=>alphas[i]);
  vals.forEach((n,i)=>T(g,pos[i][0],pos[i][1],n,{size:14,fill:"#111",family:"Liberation Serif"}));
  setNames.forEach((n,i)=>T(g,lab[i][0],lab[i][1],n,{size:19,fill:labelColors[i]}));
 }
 venn("Boundary",840,[[808,107,55,56],[862,105,54,56],[834.5,150,55,52]],boundaryCounts,[[784,94],[835,80],[887,94],[835,124],[798,146],[873,146],[835,184]],[[731,66],[930,64],[838,219]]);
 venn("TAD",1124,[[1093.5,106.5,55,56],[1145.5,106,54,56],[1119.5,153,55,51]],tadCounts,[[1067,93],[1119,79],[1171,93],[1119,123],[1080,146],[1157,146],[1119,184]],[[1020,66],[1213,64],[1124,219]]);
})();

/* D, E */
function upset(o){
 const g=svg.append("g");
 const x=d3.scaleLinear().domain([0,14]).range([o.c0,o.c1]);
 const y=d3.scaleLinear().domain(o.yDom).range([o.y0,o.y1]);
 g.selectAll(null).data(o.vals).join("rect").attr("x",(d,i)=>x(i)-o.bw/2).attr("width",o.bw).attr("y",d=>y(d)).attr("height",d=>o.base-y(d)).attr("fill","#3a3a3a");
 g.selectAll(null).data(o.vals).join("text").attr("x",(d,i)=>x(i)).attr("y",d=>y(d)-9).attr("dy",".35em").attr("text-anchor","middle").attr("font-size",15).attr("fill","#444").text(d=>d);
 const ax=g.append("g").attr("transform",`translate(${o.ax},0)`).call(d3.axisLeft(y).tickValues(o.ticks).tickSize(0).tickPadding(o.pad));
 ax.select(".domain").attr("d",`M0,${o.axTop}V${o.axBot}`).attr("stroke","#222").attr("stroke-width",1.5);
 ax.selectAll("text").attr("font-size",17).attr("fill","#4a4a4a").style("font-family","Liberation Sans");
 g.append("line").attr("x1",o.ax).attr("x2",o.end).attr("y1",o.base).attr("y2",o.base).attr("stroke","#222").attr("stroke-width",1.5);
 if(o.zero)T(g,o.zero[0],o.zero[1],"0",{size:17,fill:"#4a4a4a"});
 T(g,779,o.ylab,"Intersection Size",{size:18,rot:-90,fill:"#222"});
 T(g,o.title[0],o.title[1],o.title[2],{size:19,fill:"#222"});
 [1,3].forEach(r=>g.append("rect").attr("x",o.stripe).attr("width",o.end-o.stripe).attr("y",o.rows[r]-8).attr("height",16).attr("fill","#f5f5f5"));
 o.vals.forEach((v,i)=>{
  o.rows.forEach((ry,r)=>g.append("circle").attr("cx",x(i)).attr("cy",ry).attr("r",1.6).attr("fill","#dedede"));
 });
 o.members.forEach((m,i)=>{
  if(m.length>1)g.append("line").attr("x1",x(i)).attr("x2",x(i)).attr("y1",o.rows[d3.min(m)]).attr("y2",o.rows[d3.max(m)]).attr("stroke","#333").attr("stroke-width",1.5);
  m.forEach(r=>g.append("circle").attr("cx",x(i)).attr("cy",o.rows[r]).attr("r",3.2).attr("fill","#111"));
 });
 const sx=d3.scaleLinear().domain([0,o.sMax]).range([o.s0,o.s1]);
 g.selectAll(null).data(o.sizes).join("rect").attr("x",d=>sx(d)).attr("width",d=>o.s0-sx(d)).attr("y",(d,i)=>o.rows[i]-3.7).attr("height",7.4).attr("fill","#3e3e3e");
 const sa=g.append("g").attr("transform",`translate(0,${o.sAxis})`).call(d3.axisBottom(sx).tickValues(o.sTicks).tickSize(0).tickPadding(4));
 sa.select(".domain").attr("d",`M${o.sLine[0]},0H${o.sLine[1]}`).attr("stroke","#111").attr("stroke-width",1.6);
 sa.selectAll("text").attr("font-size",16).attr("fill","#4a4a4a").style("font-family","Liberation Sans");
 T(g,743,o.sSetY,"Set Size",{size:18,fill:"#222"});
 upRows.forEach((n,i)=>T(g,o.labX[i],o.rows[i]-1,n,{size:16,fill:"#222",style:i===3?"italic":null}));
}
upset({vals:dBars,members:dMembers,c0:861,c1:1222,bw:16,base:443,yDom:[0,400],y0:443,y1:284,ticks:[100,200,300,400],ax:835,pad:7,axTop:252,axBot:452,end:1245,zero:[786,439],ylab:348,title:[1055,259,"TAD boundaries"],rows:[466,482,498,514],stripe:835,sizes:dSetSizes,sMax:900,s0:788,s1:694,sTicks:[0,300,600,900],sAxis:531,sLine:[670,793],sSetY:561,labX:[811,811,811,811]});
upset({vals:eBars,members:eMembers,c0:866,c1:1225,bw:15,base:787,yDom:[0,40],y0:785,y1:622,ticks:[0,10,20,30,40],ax:840,pad:5,axTop:605,axBot:796,end:1250,ylab:696,title:[1067,595,"Genome Coverge (Mb)"],rows:[812,828,844,860],stripe:840,sizes:eSetSizes,sMax:100,s0:791,s1:703,sTicks:[0,50,100],sAxis:878,sLine:[674,796],sSetY:909,labX:[811,816,816,815]});

/* F */
(function(){
 const g=svg.append("g");
 const x=d3.scaleLinear().domain([.7,1.4]).range([704,874]);
 const y=d3.scaleLinear().domain([0,20]).range([1108.7,979]);
 const bw=x(.71)-x(.7);
 g.selectAll(null).data(histRed).join("rect").attr("x",(d,i)=>x(histRedStart+i*.01)).attr("width",bw).attr("y",d=>y(d)).attr("height",d=>y(0)-y(d)).attr("fill","#ad4f60").attr("stroke","#3d1a22").attr("stroke-width",.5).attr("display",d=>d?null:"none");
 g.selectAll(null).data(histBlack).join("rect").attr("x",(d,i)=>x(histStart+i*.01)-.3).attr("width",bw+.6).attr("y",d=>y(d)).attr("height",d=>y(0)-y(d)).attr("fill","#000");
 g.append("path").attr("d",d3.line().x(d=>x(d[0])).y(d=>y(d[1])).curve(d3.curveMonotoneX)(fitX.map((v,i)=>[v,fitY[i]]))).attr("fill","none").attr("stroke","#2fdc2c").attr("stroke-width",1.7);
 g.append("line").attr("x1",x(.885)).attr("x2",x(.885)).attr("y1",968).attr("y2",1122).attr("stroke","#39a6e0").attr("stroke-width",1.4).attr("stroke-dasharray","1.5 1.2");
 const ya=g.append("g").attr("transform","translate(688,0)").call(d3.axisLeft(y).tickValues([0,5,10,15,20]).tickSize(7).tickPadding(2));
 ya.select(".domain").attr("d","M0,979V1108.7").attr("stroke","#222").attr("stroke-width",1.3);
 ya.selectAll("text").attr("font-size",18).attr("fill","#222").style("font-family","Liberation Sans");
 const xa=g.append("g").attr("transform","translate(0,1113)").call(d3.axisBottom(x).tickValues([.7,.8,.9,1,1.1,1.2,1.3,1.4]).tickSize(3).tickPadding(5).tickFormat(d=>[.7,.9,1.1,1.3].includes(+d.toFixed(1))?d.toFixed(1):""));
 xa.select(".domain").attr("d","M704,0H875").attr("stroke","#111").attr("stroke-width",1.6);
 xa.selectAll("text").attr("font-size",17).attr("fill","#222").style("font-family","Liberation Sans");
 T(g,643,1043,"Frequency",{size:19,rot:-90,fill:"#222"});
 T(g,754,959,"0.885",{size:16.5,fill:"#2a9fd8"});
 T(g,719,1000,"(353)",{size:16,fill:"#222"});
 const t=T(g,813,1000,"",{size:16,fill:"#222"});t.append("tspan").text("(");t.append("tspan").attr("fill","#e2206c").text("66");t.append("tspan").text(")");
 T(g,760,1157,"Variants in orthologous TAD size",{size:18,fill:"#222"});
})();

function pval(g,x,y,r){
 const t=g.append("text").attr("x",x).attr("y",y).attr("dy",".35em").attr("font-size",12).attr("fill","#222");
 t.append("tspan").text(r+",\u00a0\u00a0");
 t.append("tspan").attr("font-style","italic").text("P");
 t.append("tspan").text(" < 2.2 × 10");
 t.append("tspan").attr("font-size",9.5).attr("dy",-4).text("-16");
}
function scatter(o){
 const g=svg.append("g");
 const x=d3.scaleLinear().domain(o.xd).range(o.xr);
 const y=d3.scaleLinear().domain(o.yd).range(o.yr);
 g.append("g").selectAll(null).data(o.pts).join("circle").attr("cx",d=>x(d[0])).attr("cy",d=>y(d[1])).attr("r",o.r).attr("fill","#000");
 const L=o.line;
 const band=[[L[0][0],L[0][1]+o.ci],[L[1][0],L[1][1]+o.ci],[L[1][0],L[1][1]-o.ci],[L[0][0],L[0][1]-o.ci]];
 g.append("path").attr("d",d3.line().x(d=>x(d[0])).y(d=>y(d[1]))(band)+"Z").attr("fill",o.ciColor).attr("fill-opacity",.7);
 g.append("line").attr("x1",x(L[0][0])).attr("y1",y(L[0][1])).attr("x2",x(L[1][0])).attr("y2",y(L[1][1])).attr("stroke",o.lineColor).attr("stroke-width",o.lw);
 const ya=g.append("g").attr("transform",`translate(${o.ax},0)`).call(d3.axisLeft(y).tickValues(o.yt).tickSize(0).tickPadding(o.pad).tickFormat(o.fmt));
 ya.select(".domain").attr("d",`M0,${o.top}V${o.ay}`).attr("stroke","#111").attr("stroke-width",1.4);
 ya.selectAll("text").attr("font-size",o.fs).attr("fill","#222").style("font-family","Liberation Sans");
 const xa=g.append("g").attr("transform",`translate(0,${o.ay})`).call(d3.axisBottom(x).tickValues(o.xt).tickSize(0).tickPadding(6).tickFormat(o.fmt));
 xa.select(".domain").attr("d",`M${o.ax},0H${o.end}`).attr("stroke","#111").attr("stroke-width",1.4);
 xa.selectAll("text").attr("font-size",o.fs).attr("fill","#222").attr("dx",o.dx||0).style("font-family","Liberation Sans");
 pval(g,o.rx,968,o.rt);
 return g;
}
/* G */
(function(){
 const g=scatter({pts:gPoints,r:2.8,line:gLine,ci:.09,ciColor:"#b79ac4",lineColor:"#6d2a80",lw:2,xd:[0,6],xr:[919,1045],yd:[0,5],yr:[1123,990.7],xt:[2,4,6],yt:[1,2,3,4,5],ax:920.7,pad:8,top:968,ay:1122,end:1059,rx:926,rt:"R= 0.95",fmt:d3.format("d"),fs:18});
 T(g,1052,1135,"(e5)",{size:17,anchor:"start",fill:"#222"});
 T(g,903,964,"(e5)",{size:17,fill:"#222"});
 const a=T(g,889,1045,"",{size:18,rot:-90,fill:"#222"});a.append("tspan").attr("font-style","italic").text("Dmel");a.append("tspan").text(" TAD sizes");
 const b=T(g,997,1158,"",{size:18,fill:"#222"});b.append("tspan").attr("font-style","italic").text("Dpse");b.append("tspan").text(" TAD sizes");
})();
/* H */
(function(){
 const g=scatter({pts:hPoints,r:2.3,line:hLine,ci:.03,ciColor:"#bd8fcc",lineColor:"#74248c",lw:2.2,xd:[.9,1.5],xr:[1160,1270],yd:[.9,1.5],yr:[1087.7,974],xt:[.9,1.1,1.3,1.5],yt:[.9,1.1,1.3,1.5],ax:1126.7,pad:4,top:970,ay:1122,end:1272,rx:1137,rt:"R= 0.66",fmt:d3.format(".1f"),fs:16.5,dx:-1});
 T(g,1088,1043,"Dif. in synteny sizes",{size:18,rot:-90,fill:"#222"});
 T(g,1206,1157,"Dif. in TAD sizes",{size:18,fill:"#222"});
})();
</script></body></html>
